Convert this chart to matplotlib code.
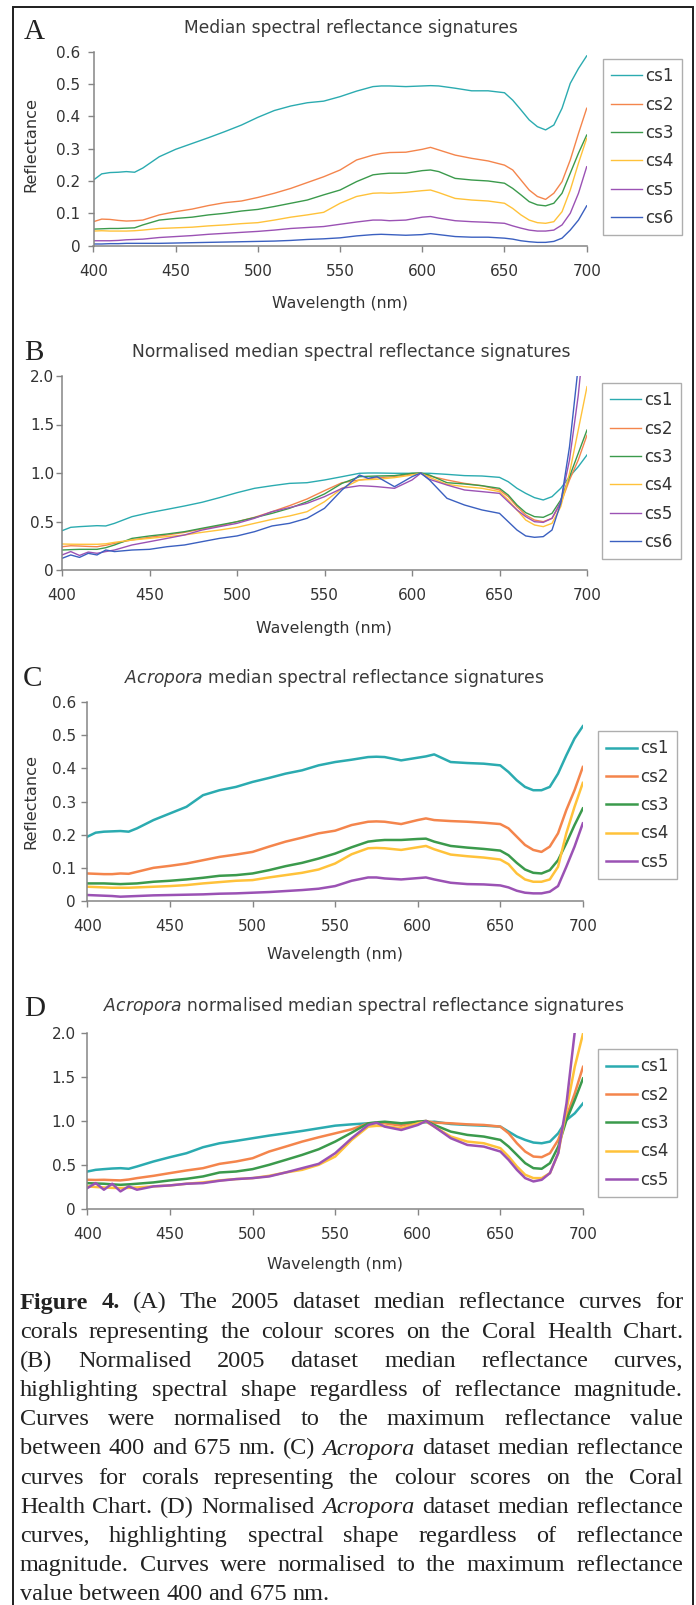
import numpy as np
import matplotlib
matplotlib.use("Agg")
import matplotlib.pyplot as plt
from matplotlib.patches import Rectangle
from matplotlib.ticker import MultipleLocator, FuncFormatter

# ---------------------------------------------------------------- data
wavelength = [400, 405, 410, 415, 420, 425, 430, 440, 450, 460, 470, 480, 490,
              500, 510, 520, 530, 540, 550, 560, 570, 575, 580, 590, 600, 605,
              610, 620, 630, 640, 650, 655, 660, 665, 670, 675, 680, 685, 690,
              695, 700]

labels_all = ["cs1", "cs2", "cs3", "cs4", "cs5", "cs6"]

# (A) median reflectance, 2005 dataset
a_cs1 = [0.203, 0.222, 0.226, 0.227, 0.229, 0.227, 0.240, 0.275, 0.298, 0.316, 0.334, 0.353, 0.373,
         0.397, 0.418, 0.432, 0.442, 0.447, 0.461, 0.478, 0.492, 0.494, 0.494, 0.492, 0.494, 0.495,
         0.494, 0.487, 0.479, 0.479, 0.473, 0.450, 0.420, 0.389, 0.368, 0.358, 0.373, 0.425, 0.502,
         0.548, 0.587]
a_cs2 = [0.074, 0.082, 0.081, 0.078, 0.076, 0.077, 0.079, 0.095, 0.105, 0.113, 0.124, 0.133, 0.138,
         0.149, 0.162, 0.177, 0.195, 0.213, 0.234, 0.265, 0.280, 0.285, 0.288, 0.289, 0.298, 0.304,
         0.296, 0.280, 0.270, 0.262, 0.249, 0.234, 0.203, 0.172, 0.152, 0.143, 0.162, 0.198, 0.265,
         0.347, 0.425]
a_cs3 = [0.051, 0.052, 0.053, 0.053, 0.054, 0.055, 0.064, 0.079, 0.084, 0.088, 0.095, 0.100, 0.107,
         0.112, 0.121, 0.131, 0.141, 0.157, 0.172, 0.198, 0.219, 0.222, 0.224, 0.224, 0.232, 0.234,
         0.229, 0.208, 0.203, 0.200, 0.193, 0.177, 0.157, 0.136, 0.126, 0.123, 0.131, 0.162, 0.224,
         0.286, 0.342]
a_cs4 = [0.045, 0.046, 0.045, 0.045, 0.045, 0.046, 0.048, 0.053, 0.055, 0.057, 0.061, 0.064, 0.068,
         0.071, 0.079, 0.088, 0.095, 0.103, 0.131, 0.152, 0.162, 0.163, 0.162, 0.165, 0.170, 0.172,
         0.164, 0.146, 0.141, 0.138, 0.131, 0.115, 0.095, 0.079, 0.071, 0.069, 0.074, 0.105, 0.172,
         0.255, 0.332]
a_cs5 = [0.015, 0.015, 0.015, 0.016, 0.018, 0.019, 0.020, 0.025, 0.028, 0.031, 0.035, 0.038, 0.041,
         0.044, 0.048, 0.053, 0.056, 0.059, 0.066, 0.073, 0.079, 0.079, 0.077, 0.079, 0.088, 0.090,
         0.085, 0.077, 0.074, 0.072, 0.069, 0.061, 0.054, 0.048, 0.045, 0.045, 0.048, 0.064, 0.100,
         0.162, 0.244]
a_cs6 = [0.005, 0.005, 0.006, 0.006, 0.007, 0.007, 0.007, 0.007, 0.008, 0.009, 0.010, 0.011, 0.012,
         0.013, 0.014, 0.016, 0.019, 0.021, 0.024, 0.030, 0.034, 0.035, 0.034, 0.032, 0.034, 0.037,
         0.034, 0.028, 0.026, 0.026, 0.023, 0.020, 0.015, 0.012, 0.010, 0.010, 0.013, 0.023, 0.048,
         0.079, 0.123]

# (B) normalised median reflectance, 2005 dataset
b_cs1 = [0.405, 0.440, 0.447, 0.452, 0.457, 0.454, 0.481, 0.550, 0.591, 0.625, 0.660, 0.698, 0.746,
         0.797, 0.842, 0.869, 0.893, 0.900, 0.928, 0.962, 0.997, 1.000, 1.000, 0.997, 0.997, 0.998,
         0.997, 0.986, 0.973, 0.969, 0.955, 0.910, 0.842, 0.790, 0.746, 0.722, 0.756, 0.842, 0.962,
         1.065, 1.186]
b_cs2 = [0.240, 0.250, 0.247, 0.243, 0.240, 0.255, 0.275, 0.310, 0.337, 0.361, 0.388, 0.423, 0.454,
         0.498, 0.543, 0.601, 0.663, 0.732, 0.818, 0.900, 0.928, 0.940, 0.952, 0.962, 0.990, 1.000,
         0.969, 0.928, 0.893, 0.869, 0.825, 0.756, 0.653, 0.567, 0.515, 0.498, 0.533, 0.687, 0.928,
         1.134, 1.390]
b_cs3 = [0.206, 0.210, 0.213, 0.213, 0.213, 0.230, 0.258, 0.326, 0.351, 0.371, 0.395, 0.430, 0.464,
         0.498, 0.540, 0.584, 0.636, 0.704, 0.784, 0.893, 0.962, 0.966, 0.969, 0.973, 0.997, 1.000,
         0.979, 0.900, 0.887, 0.869, 0.842, 0.773, 0.670, 0.591, 0.550, 0.543, 0.584, 0.722, 0.962,
         1.203, 1.443]
b_cs4 = [0.268, 0.266, 0.265, 0.265, 0.265, 0.270, 0.285, 0.309, 0.326, 0.344, 0.361, 0.388, 0.412,
         0.440, 0.481, 0.522, 0.557, 0.601, 0.704, 0.842, 0.928, 0.932, 0.935, 0.952, 0.979, 0.997,
         0.955, 0.883, 0.859, 0.842, 0.808, 0.722, 0.619, 0.515, 0.464, 0.447, 0.481, 0.653, 0.997,
         1.443, 1.890]
b_cs5 = [0.155, 0.190, 0.150, 0.185, 0.172, 0.190, 0.206, 0.258, 0.292, 0.326, 0.361, 0.412, 0.447,
         0.481, 0.533, 0.601, 0.643, 0.687, 0.756, 0.842, 0.869, 0.865, 0.859, 0.842, 0.928, 0.997,
         0.935, 0.876, 0.825, 0.808, 0.790, 0.704, 0.619, 0.550, 0.498, 0.491, 0.533, 0.704, 1.134,
         1.800, 2.700]
b_cs6 = [0.120, 0.155, 0.130, 0.172, 0.155, 0.206, 0.190, 0.206, 0.213, 0.240, 0.258, 0.292, 0.326,
         0.351, 0.395, 0.454, 0.481, 0.533, 0.636, 0.825, 0.979, 0.945, 0.962, 0.859, 0.962, 1.000,
         0.928, 0.739, 0.670, 0.619, 0.584, 0.498, 0.412, 0.351, 0.337, 0.344, 0.412, 0.687, 1.270,
         2.100, 3.300]

# (C) Acropora median reflectance
c_cs1 = [0.194, 0.206, 0.209, 0.210, 0.211, 0.209, 0.219, 0.244, 0.264, 0.284, 0.319, 0.334, 0.344,
         0.359, 0.371, 0.384, 0.394, 0.409, 0.419, 0.426, 0.434, 0.435, 0.434, 0.424, 0.432, 0.436,
         0.442, 0.419, 0.416, 0.414, 0.409, 0.389, 0.364, 0.344, 0.334, 0.334, 0.344, 0.384, 0.439,
         0.490, 0.527]
c_cs2 = [0.083, 0.082, 0.081, 0.081, 0.083, 0.082, 0.088, 0.100, 0.106, 0.113, 0.123, 0.133, 0.140,
         0.148, 0.164, 0.179, 0.191, 0.204, 0.212, 0.229, 0.239, 0.240, 0.239, 0.232, 0.244, 0.249,
         0.244, 0.241, 0.239, 0.236, 0.232, 0.219, 0.194, 0.169, 0.154, 0.148, 0.164, 0.204, 0.274,
         0.334, 0.404]
c_cs3 = [0.053, 0.053, 0.053, 0.052, 0.051, 0.052, 0.053, 0.058, 0.061, 0.065, 0.070, 0.076, 0.078,
         0.083, 0.093, 0.105, 0.115, 0.128, 0.143, 0.162, 0.179, 0.182, 0.184, 0.184, 0.187, 0.188,
         0.179, 0.166, 0.161, 0.157, 0.152, 0.138, 0.115, 0.095, 0.085, 0.083, 0.093, 0.123, 0.174,
         0.229, 0.279]
c_cs4 = [0.043, 0.042, 0.041, 0.040, 0.040, 0.040, 0.041, 0.043, 0.045, 0.048, 0.053, 0.057, 0.061,
         0.063, 0.071, 0.078, 0.085, 0.095, 0.113, 0.141, 0.159, 0.160, 0.159, 0.154, 0.162, 0.166,
         0.156, 0.140, 0.135, 0.131, 0.125, 0.111, 0.083, 0.065, 0.058, 0.058, 0.065, 0.103, 0.204,
         0.284, 0.356]
c_cs5 = [0.018, 0.017, 0.016, 0.015, 0.013, 0.014, 0.015, 0.017, 0.018, 0.019, 0.020, 0.022, 0.023,
         0.025, 0.027, 0.030, 0.033, 0.037, 0.045, 0.061, 0.071, 0.071, 0.068, 0.065, 0.069, 0.071,
         0.065, 0.055, 0.051, 0.050, 0.047, 0.041, 0.031, 0.025, 0.023, 0.023, 0.028, 0.045, 0.103,
         0.164, 0.234]

# (D) Acropora normalised median reflectance
d_cs1 = [0.426, 0.445, 0.453, 0.460, 0.464, 0.457, 0.483, 0.540, 0.589, 0.634, 0.702, 0.747, 0.774,
         0.804, 0.834, 0.860, 0.887, 0.917, 0.947, 0.962, 0.974, 0.978, 0.981, 0.966, 0.981, 0.985,
         0.992, 0.966, 0.955, 0.947, 0.936, 0.879, 0.823, 0.785, 0.755, 0.747, 0.766, 0.860, 1.011,
         1.087, 1.200]
d_cs2 = [0.332, 0.330, 0.332, 0.328, 0.325, 0.335, 0.351, 0.377, 0.408, 0.438, 0.464, 0.513, 0.540,
         0.577, 0.653, 0.709, 0.766, 0.815, 0.860, 0.906, 0.974, 0.976, 0.974, 0.947, 0.992, 1.000,
         0.981, 0.974, 0.962, 0.955, 0.936, 0.860, 0.747, 0.653, 0.596, 0.589, 0.634, 0.785, 1.049,
         1.313, 1.615]
d_cs3 = [0.294, 0.290, 0.287, 0.280, 0.275, 0.280, 0.287, 0.302, 0.325, 0.343, 0.370, 0.415, 0.426,
         0.453, 0.502, 0.558, 0.615, 0.679, 0.766, 0.868, 0.974, 0.985, 0.992, 0.974, 0.992, 1.000,
         0.955, 0.879, 0.842, 0.823, 0.785, 0.709, 0.615, 0.521, 0.464, 0.457, 0.521, 0.709, 1.011,
         1.238, 1.483]
d_cs4 = [0.257, 0.250, 0.245, 0.240, 0.238, 0.240, 0.245, 0.257, 0.268, 0.287, 0.302, 0.325, 0.340,
         0.351, 0.377, 0.415, 0.445, 0.502, 0.596, 0.785, 0.936, 0.945, 0.943, 0.917, 0.974, 0.992,
         0.936, 0.823, 0.766, 0.747, 0.691, 0.596, 0.483, 0.389, 0.351, 0.351, 0.408, 0.634, 1.125,
         1.615, 1.992]
d_cs5 = [0.238, 0.294, 0.219, 0.287, 0.200, 0.257, 0.219, 0.257, 0.268, 0.287, 0.294, 0.321, 0.340,
         0.351, 0.370, 0.415, 0.464, 0.513, 0.634, 0.804, 0.955, 0.981, 0.936, 0.898, 0.955, 1.000,
         0.936, 0.804, 0.728, 0.709, 0.653, 0.558, 0.445, 0.351, 0.313, 0.332, 0.408, 0.634, 1.200,
         2.010, 2.450]

titles = [
    "Median spectral reflectance signatures",
    "Normalised median spectral reflectance signatures",
    r"$\it{Acropora}$ median spectral reflectance signatures",
    r"$\it{Acropora}$ normalised median spectral reflectance signatures",
]
panel_letters = ["A", "B", "C", "D"]
x_ticks = [400, 450, 500, 550, 600, 650, 700]

caption_lines = [
    "**Figure** **4.** (A) The 2005 dataset median reflectance curves for",
    "corals representing the colour scores on the Coral Health Chart.",
    "(B) Normalised 2005 dataset median reflectance curves,",
    "highlighting spectral shape regardless of reflectance magnitude.",
    "Curves were normalised to the maximum reflectance value",
    "between 400 and 675 nm. (C) *Acropora* dataset median reflectance",
    "curves for corals representing the colour scores on the Coral",
    "Health Chart. (D) Normalised *Acropora* dataset median reflectance",
    "curves, highlighting spectral shape regardless of reflectance",
    "magnitude. Curves were normalised to the maximum reflectance",
    "value between 400 and 675 nm.",
]

# ---------------------------------------------------------------- style
W, H, DPI = 696, 1605, 100
colors = ["#2BABB0", "#F4854C", "#3B9A4C", "#FFC23A", "#9B52B4", "#3B60C0"]
AXIS_GREY = "#858585"
TEXT = "#333333"
SANS = "DejaVu Sans"
SERIF = "Liberation Serif"

fig = plt.figure(figsize=(W / DPI, H / DPI), dpi=DPI)
fig.patch.set_facecolor("white")


def fx(x):
    return x / W


def fy(y):
    return 1 - y / H


def tick_fmt(v, pos):
    return "0" if abs(v) < 1e-9 else f"{v:.1f}"


panels = [
    dict(rect=(93.5, 51.7, 586.7, 245.6), ymax=0.6, ystep=0.1, lw=1.0,
         series=[a_cs1, a_cs2, a_cs3, a_cs4, a_cs5, a_cs6],
         title_xy=(350.5, 28), letter_xy=(34, 32), xlabel_y=303,
         ylabel_xy=(31, 144.5), legend_xy=(603, 59), ypad=5.0),
    dict(rect=(62, 376, 587, 570), ymax=2.0, ystep=0.5, lw=1.0,
         series=[b_cs1, b_cs2, b_cs3, b_cs4, b_cs5, b_cs6],
         title_xy=(351.7, 352), letter_xy=(34, 352.5), xlabel_y=628,
         ylabel_xy=None, legend_xy=(602, 383), ypad=1.5),
    dict(rect=(87.4, 702, 582.8, 901), ymax=0.6, ystep=0.1, lw=1.8,
         series=[c_cs1, c_cs2, c_cs3, c_cs4, c_cs5],
         title_xy=(334.7, 678), letter_xy=(33, 679), xlabel_y=955,
         ylabel_xy=(31, 801.5), legend_xy=(598, 731), ypad=4.0),
    dict(rect=(87.4, 1033, 583, 1209), ymax=2.0, ystep=0.5, lw=1.8,
         series=[d_cs1, d_cs2, d_cs3, d_cs4, d_cs5],
         title_xy=(363.5, 1006), letter_xy=(35, 1009), xlabel_y=1265,
         ylabel_xy=None, legend_xy=(598, 1049), ypad=4.0),
]

for i, p in enumerate(panels):
    left, top, right, bottom = p["rect"]
    ax = fig.add_axes([fx(left), fy(bottom), (right - left) / W, (bottom - top) / H])
    for k, ys in enumerate(p["series"]):
        ax.plot(wavelength, ys, color=colors[k], lw=p["lw"], label=labels_all[k],
                solid_joinstyle="round")
    ax.set_xlim(400, 700)
    ax.set_ylim(0, p["ymax"])
    ax.set_xticks(x_ticks)
    ax.yaxis.set_major_locator(MultipleLocator(p["ystep"]))
    ax.yaxis.set_major_formatter(FuncFormatter(tick_fmt))
    for side in ("top", "right"):
        ax.spines[side].set_visible(False)
    for side in ("left", "bottom"):
        ax.spines[side].set_color(AXIS_GREY)
        ax.spines[side].set_linewidth(1.1)
    ax.tick_params(axis="both", direction="out", length=4.3, width=1.0,
                   color=AXIS_GREY, labelcolor=TEXT, labelsize=11)
    ax.tick_params(axis="x", pad=9)
    ax.tick_params(axis="y", pad=p["ypad"])
    ax.patch.set_alpha(0)

    h_px = bottom - top
    w_px = right - left
    ax.set_xlabel("Wavelength (nm)", fontsize=11.3, color=TEXT, family=SANS)
    ax.xaxis.set_label_coords(0.5, (bottom - p["xlabel_y"]) / h_px)
    ax.xaxis.label.set_va("center")
    if p["ylabel_xy"] is not None:
        lx, ly = p["ylabel_xy"]
        ax.set_ylabel("Reflectance", fontsize=11.6, color=TEXT, family=SANS)
        ax.yaxis.set_label_coords((lx - left) / w_px, (bottom - ly) / h_px)
        ax.yaxis.label.set_va("center")

    lx, ly = p["legend_xy"]
    leg = ax.legend(loc="upper left", bbox_to_anchor=(fx(lx), fy(ly)),
                    bbox_transform=fig.transFigure, borderaxespad=0,
                    fontsize=12, frameon=True, fancybox=False,
                    handlelength=1.85, handletextpad=0.15, borderpad=0.5,
                    labelspacing=0.62)
    leg.get_frame().set_edgecolor("#9a9a9a")
    leg.get_frame().set_linewidth(1.0)
    for t in leg.get_texts():
        t.set_color(TEXT)

    tx, ty = p["title_xy"]
    fig.text(fx(tx), fy(ty), titles[i], ha="center", va="center",
             fontsize=12.3, color="#3a3a3a", family=SANS)
    lx, ly = p["letter_xy"]
    fig.text(fx(lx), fy(ly), panel_letters[i], ha="center", va="center",
             fontsize=21, color="#222222", family=SERIF)

# outer frame around the figure block (bottom edge runs past the page)
fig.add_artist(Rectangle((fx(12.7), -0.02), (692.5 - 12.7) / W, fy(7) + 0.02,
                         transform=fig.transFigure, fill=False,
                         edgecolor="#1e1e1e", linewidth=1.4))

# ---------------------------------------------------------------- caption
def draw_caption(lines, left, right, first_baseline, leading, size):
    renderer = fig.canvas.get_renderer()
    natural_space = 0.25 * size * DPI / 72
    for i, line in enumerate(lines):
        words = []
        for tok in line.split(" "):
            weight, style = "normal", "normal"
            if tok.startswith("**"):
                tok, weight = tok.strip("*"), "bold"
            elif tok.startswith("*"):
                tok, style = tok.strip("*"), "italic"
            t = fig.text(0, 0, tok, fontsize=size, family=SERIF, weight=weight,
                         style=style, color="#222222", ha="left", va="baseline")
            words.append((t, t.get_window_extent(renderer).width))
        total = sum(w for _, w in words)
        last = i == len(lines) - 1
        if last or len(words) < 2:
            gap = natural_space
        else:
            gap = (right - left - total) / (len(words) - 1)
        x = left
        y = first_baseline + i * leading
        for t, w in words:
            t.set_position((fx(x), fy(y)))
            x += w + gap


draw_caption(caption_lines, left=20, right=683, first_baseline=1308.5,
             leading=29.2, size=17.5)

fig.savefig("out.png", dpi=DPI, facecolor="white")
